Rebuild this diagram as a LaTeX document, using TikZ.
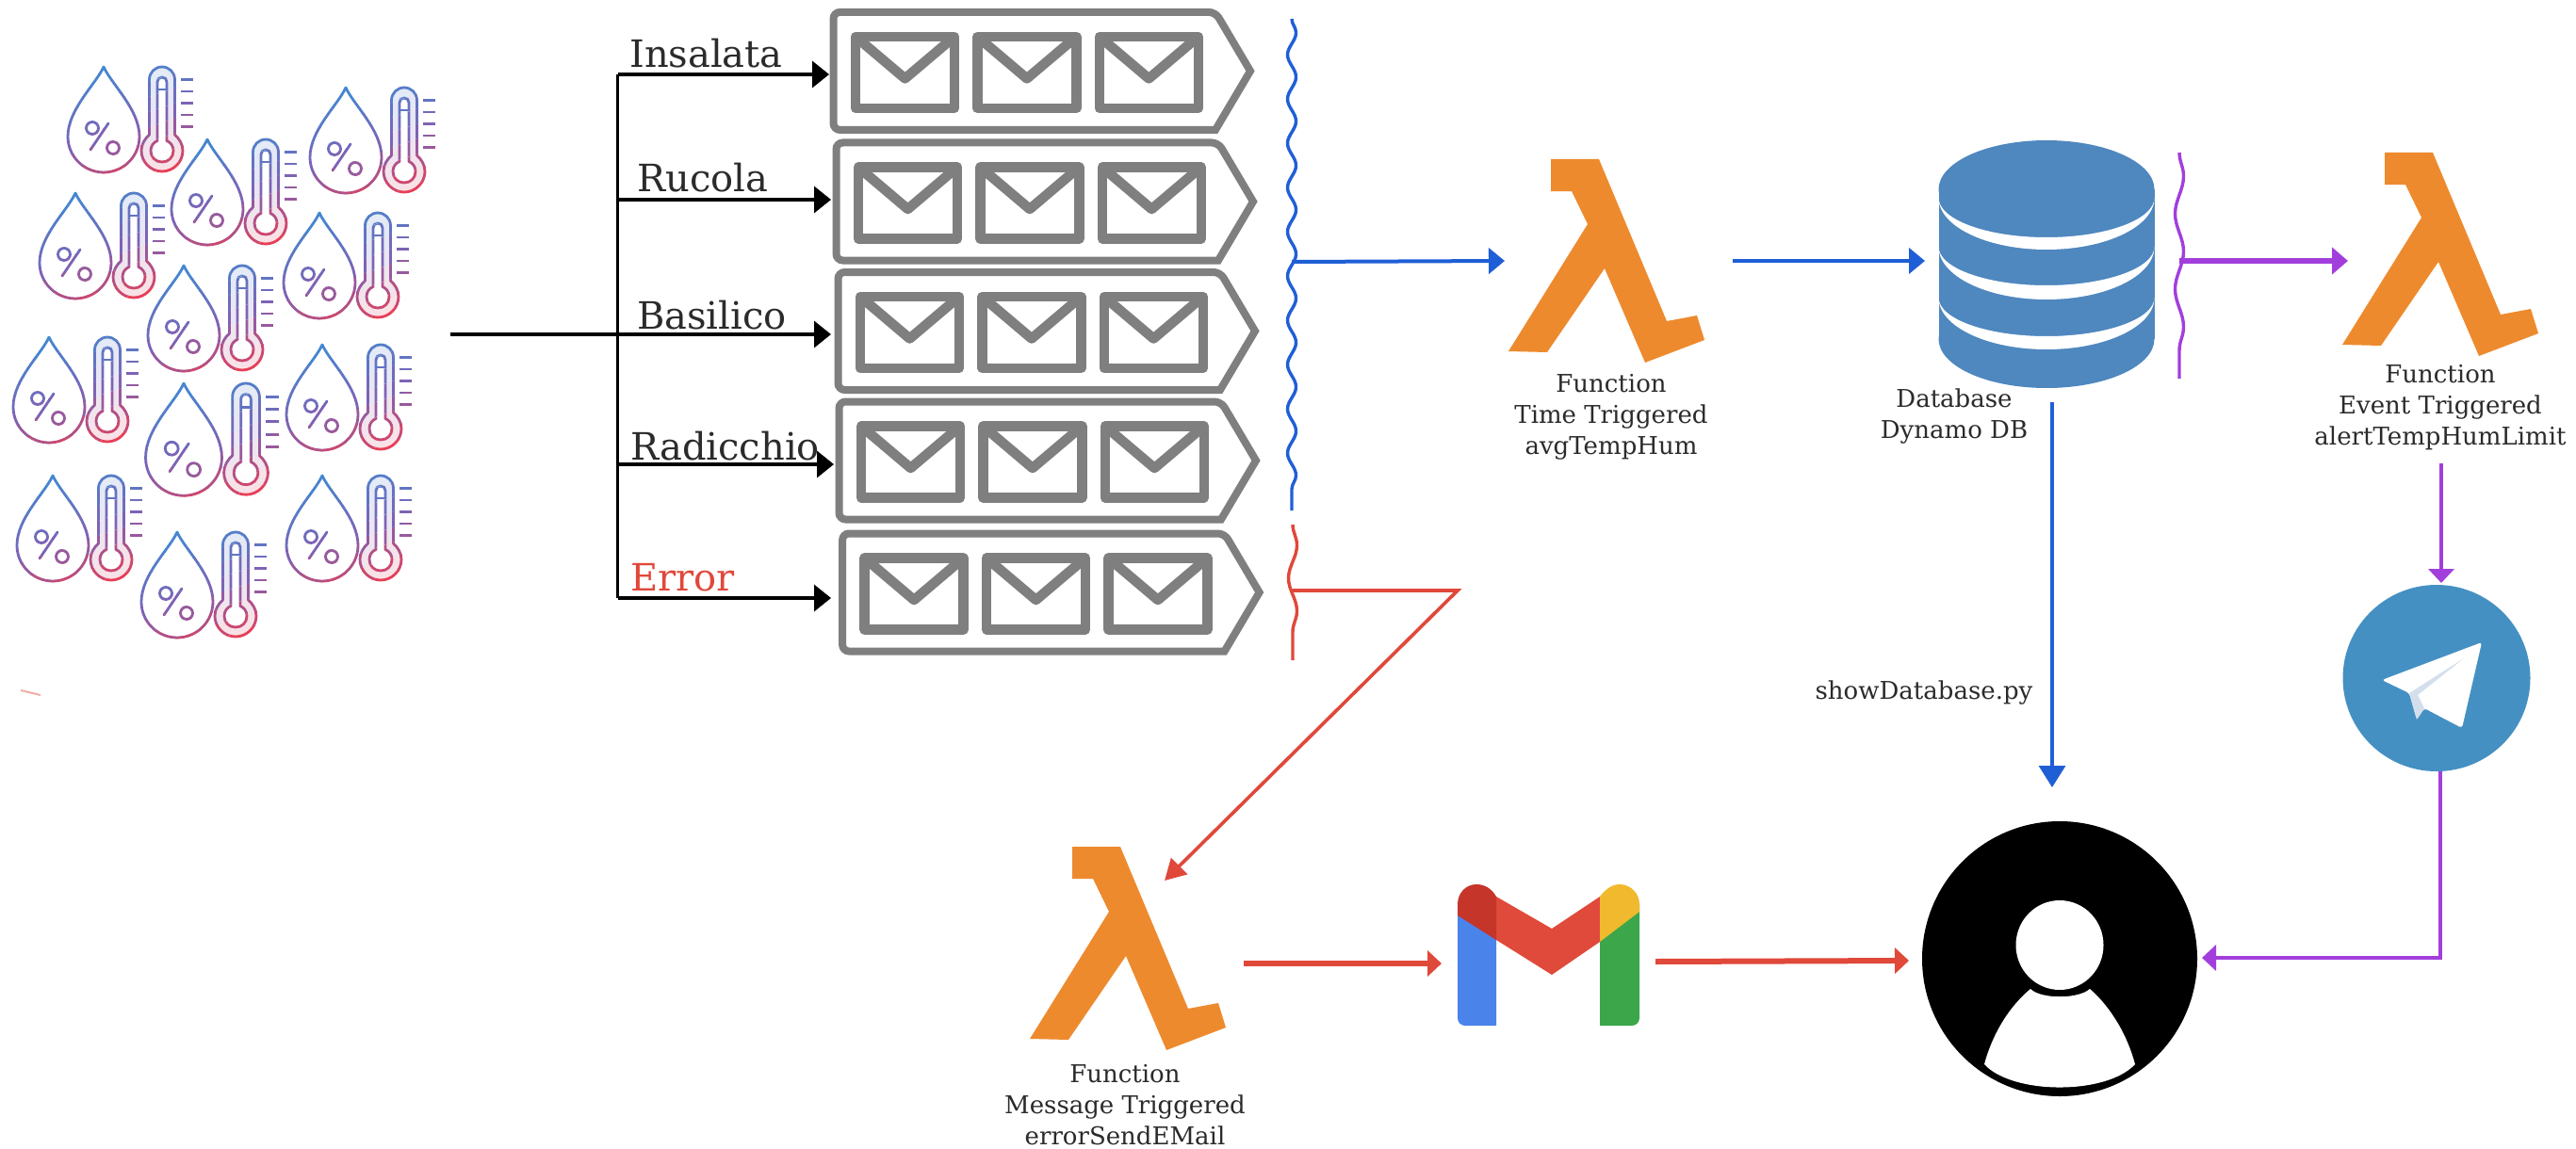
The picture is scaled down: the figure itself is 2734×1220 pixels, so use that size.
\documentclass[tikz,border=0pt]{standalone}
\usepackage{fontspec}
\setmainfont{DejaVu Serif}
\usetikzlibrary{arrows.meta,decorations.pathmorphing}
\definecolor{iconblue}{HTML}{3A8ED6}
\definecolor{iconmid}{HTML}{7D63B5}
\definecolor{iconred}{HTML}{E63F58}
\definecolor{qgray}{HTML}{7F7F7F}
\definecolor{lamorange}{HTML}{EE8A2E}
\definecolor{flowblue}{HTML}{1F5FD6}
\definecolor{flowred}{HTML}{E0483A}
\definecolor{flowpurple}{HTML}{A23FDC}
\definecolor{dbblue}{HTML}{4F87BF}
\definecolor{tgblue}{HTML}{4590C2}
\definecolor{tgfold}{HTML}{D3DFEC}
\definecolor{gmblue}{HTML}{4A83EA}
\definecolor{gmdark}{HTML}{C5352A}
\definecolor{gmred}{HTML}{E04A3A}
\definecolor{gmyellow}{HTML}{F0B92E}
\definecolor{gmgreen}{HTML}{3CA64A}
\definecolor{captext}{HTML}{2B2B2B}
\tikzset{
  branchline/.style={black,line width=3.6pt,-{Triangle[length=18pt,width=28pt]}},
  bluearrow/.style={flowblue,line width=4pt,-{Triangle[length=17pt,width=27pt]}},
  redarrow/.style={flowred,line width=6pt,-{Triangle[length=15pt,width=27pt]}},
  purplearrow/.style={flowpurple,line width=4pt,-{Triangle[length=15pt,width=27pt]}},
  wave/.style={line width=3.4pt,decorate,decoration={snake,segment length=#1,amplitude=4.5pt}},
  qlabel/.style={anchor=base west,inner sep=0pt,font=\fontsize{40}{40}\selectfont,text=captext},
  caption/.style={align=center,inner sep=0pt,font=\fontsize{26}{33}\selectfont,text=captext},
  qoutline/.style={qgray,line width=8pt,rounded corners=7pt},
  envbox/.style={qgray,line width=10.5pt,line join=round},
  iconline/.style={line width=2.8pt,line join=round,line cap=round},
}
\newcommand\iconstroke{%
  \draw[iconline] (0,0) .. controls (-8,18) and (-38,45) .. (-38,74)
     .. controls (-38,95) and (-21,112) .. (0,112)
     .. controls (21,112) and (38,95) .. (38,74)
     .. controls (38,45) and (8,18) .. cycle;
  \draw[iconline] (-12,65) circle[radius=6.5] (10,86) circle[radius=6.5] (-14,88) -- (5,60);
  \path[fill=bandcol!16] (48.5,72) -- (48.5,13.5) .. controls (48.5,6) and (54.5,0) .. (62,0)
     .. controls (69.5,0) and (75.5,6) .. (75.5,13.5) -- (75.5,72)
     .. controls (80,76) and (84,82) .. (84,89) .. controls (84,101) and (74,111) .. (62,111)
     .. controls (50,111) and (40,101) .. (40,89) .. controls (40,82) and (44,76) .. (48.5,72) -- cycle;
  \draw[iconline] (48.5,72) -- (48.5,13.5) .. controls (48.5,6) and (54.5,0) .. (62,0)
     .. controls (69.5,0) and (75.5,6) .. (75.5,13.5) -- (75.5,72)
     .. controls (80,76) and (84,82) .. (84,89) .. controls (84,101) and (74,111) .. (62,111)
     .. controls (50,111) and (40,101) .. (40,89) .. controls (40,82) and (44,76) .. (48.5,72) -- cycle;
  \draw[iconline,fill=white] (57,78.5) -- (57,16) .. controls (57,13) and (59,11) .. (62,11)
     .. controls (65,11) and (67,13) .. (67,16) -- (67,78.5)
     .. controls (71,80) and (74,84) .. (74,89) .. controls (74,96) and (69,101) .. (62,101)
     .. controls (55,101) and (50,96) .. (50,89) .. controls (50,84) and (53,80) .. (57,78.5) -- cycle;
  \draw[iconline] (57,24) -- (67,24);
  \foreach \ty in {13.4,26,38.4,51,63.4}{\draw[iconline,line cap=butt] (82,\ty) -- (95,\ty);}
}
\newcommand\sensoricon[3]{%
  \begin{scope}[shift={(#1,#2)},scale=#3]
    \foreach \b in {0,...,9}{
      \pgfmathsetmacro\ta{-15+\b*16}
      \ifnum\b<5
        \pgfmathtruncatemacro\mixp{\b*20}
        \colorlet{bandcol}{iconmid!\mixp!iconblue}
      \else
        \pgfmathtruncatemacro\mixp{(\b-5)*25}
        \colorlet{bandcol}{iconred!\mixp!iconmid}
      \fi
      \begin{scope}[draw=bandcol]
        \clip (-50,\ta+17.5) -- (110,\ta-38.5) -- (110,\ta-22) -- (-50,\ta+34) -- cycle;
        \iconstroke
      \end{scope}
    }
  \end{scope}
}
\newcommand\envelope[1]{%
  \draw[envbox] (#1+28,29.5) rectangle (#1+133,105.5);
  \draw[envbox] (#1+28,29.5) -- (#1+80.5,74) -- (#1+133,29.5);
}
\newcommand\queuebox[3]{%
  \coordinate (#1) at (#2,#3);
  \begin{scope}[shift={(#2,#3)}]
    \draw[qoutline] (3.5,3.5) -- (409,3.5) [sharp corners] -- (446,66) -- (409,128.5) [rounded corners=7pt] -- (3.5,128.5) -- cycle;
    \envelope{-1}
    \envelope{128.4}
    \envelope{257.8}
  \end{scope}
}
\newcommand\awslambda[3]{%
  \coordinate (#1) at (#2,#3);
  \fill[lamorange,shift={(#2,#3)}] (45,0) -- (96,0) -- (168,172) -- (200,166) -- (208,192) -- (145,216)
    -- (102,116) -- (41,205) -- (0,204) -- (84,69) -- (67,34) -- (45,34) -- cycle;
}
\begin{document}
\begin{tikzpicture}[x=1pt,y=-1pt]
\useasboundingbox (0,0) rectangle (2734,1220);
\fill[white] (0,0) rectangle (2734,1220);

% sensors
\sensoricon{110}{71}{1}
\sensoricon{367}{93}{1}
\sensoricon{220}{148}{1}
\sensoricon{80}{205}{1}
\sensoricon{339}{226}{1}
\sensoricon{195}{282}{1}
\sensoricon{52}{358}{1}
\sensoricon{342}{366}{1}
\sensoricon{195}{407}{1.065}
\sensoricon{56}{505}{1}
\sensoricon{342}{505}{1}
\sensoricon{188}{565}{1}
\draw[flowred!45,line width=2pt] (22,733) -- (43,738);

% queues
\queuebox{q1}{881}{9.4}
\queuebox{q2}{884}{148}
\queuebox{q3}{886}{285.5}
\queuebox{q4}{887}{423}
\queuebox{q5}{890.6}{563}

% bus and branches
\coordinate (src) at (478,355);
\coordinate (bus0) at (655.5,355);
\coordinate (bus1) at (655.5,79);
\coordinate (bus2) at (655.5,212);
\coordinate (bus4) at (655.5,493);
\coordinate (bus5) at (655.5,635);
\coordinate (in1) at (880,79);
\coordinate (in2) at (882,212);
\coordinate (in3) at (882,355);
\coordinate (in4) at (885,493);
\coordinate (in5) at (882,635);
\draw[black,line width=4pt] (src) -- (bus0);
\draw[branchline] (bus0) -- (in3);
\draw[branchline] (bus1) -- (in1);
\draw[branchline] (bus2) -- (in2);
\draw[branchline] (bus4) -- (in4);
\draw[branchline] (bus5) -- (in5);
\draw[black,line width=3.6pt,line cap=square] (bus1) -- (bus5);

\node[qlabel] (linsalata) at (668,72) {Insalata};
\node[qlabel] (lrucola) at (676,203) {Rucola};
\node[qlabel] (lbasilico) at (676,349) {Basilico};
\node[qlabel] (lradicchio) at (669,488) {Radicchio};
\node[qlabel,text=flowred] (lerror) at (669,627) {Error};

% waves
\coordinate (wb1) at (1371,20);
\coordinate (wb2) at (1371,542);
\coordinate (wr1) at (1372,557);
\coordinate (wr2) at (1372,701);
\coordinate (wp1) at (2313,162);
\coordinate (wp2) at (2313,402);
\draw[flowblue,wave=47pt] (wb1) -- (wb2);
\draw[flowred,wave=70pt] (wr1) -- (wr2);
\draw[flowpurple,wave=80pt] (wp1) -- (wp2);

% lambdas
\awslambda{lam1}{1601}{169}
\awslambda{lam2}{2486}{162}
\awslambda{lam3}{1093}{899}

% database
\fill[dbblue] (2057.5,201) rectangle (2286.5,360);
\fill[dbblue] (2172,201) ellipse[x radius=114.5,y radius=52];
\fill[dbblue] (2172,360) ellipse[x radius=114.5,y radius=52];
\fill[white] (2057.5,210) arc[start angle=180,end angle=0,x radius=114.5,y radius=42]
   arc[start angle=0,end angle=180,x radius=114.5,y radius=55] -- cycle;
\fill[white] (2057.5,262) arc[start angle=180,end angle=0,x radius=114.5,y radius=41]
   arc[start angle=0,end angle=180,x radius=114.5,y radius=56] -- cycle;
\fill[white] (2057.5,316) arc[start angle=180,end angle=0,x radius=114.5,y radius=41]
   arc[start angle=0,end angle=180,x radius=114.5,y radius=55] -- cycle;

% telegram
\fill[tgblue] (2586,720) ellipse[x radius=99.5,y radius=99];
\fill[white,rounded corners=3pt] (2634,682) -- (2528,722) -- (2557,736) -- (2565,764) -- (2573,752) -- (2613,773) -- cycle;
\fill[tgfold] (2615,699) -- (2557,736) -- (2565,764) -- (2573,752) -- (2566,738) -- cycle;

% user
\fill[black] (2186,1018) ellipse[x radius=146,y radius=146];
\fill[white] (2186,1003.5) ellipse[x radius=46.5,y radius=47.5];
\fill[white] (2155,1050) .. controls (2166,1061) and (2206,1061) .. (2218,1050)
   .. controls (2241,1070) and (2258,1100) .. (2266,1130)
   .. controls (2236,1162.7) and (2136,1162.7) .. (2106,1130)
   .. controls (2114,1100) and (2131,1070) .. cycle;

% gmail
\fill[gmblue] (1547,960) -- (1547,1079) [rounded corners=8pt] -- (1547,1089) [sharp corners] -- (1588,1089) -- (1588,960) -- cycle;
\fill[gmgreen] (1698,960) -- (1698,1089) [rounded corners=8pt] -- (1740,1089) [sharp corners] -- (1740,960) -- cycle;
\fill[gmred] (1588,952) -- (1647,986) -- (1698,952) -- (1698,1000) -- (1647,1035) -- (1588,998) -- cycle;
\fill[gmdark] (1588,952) .. controls (1583,943) and (1575,939) .. (1567,939) .. controls (1555,939) and (1547,949) .. (1547,960) -- (1547,972) -- (1588,998) -- cycle;
\fill[gmyellow] (1698,952) .. controls (1704,944) and (1711,939) .. (1719,939) .. controls (1731,939) and (1740,949) .. (1740,960) -- (1740,968) -- (1698,1000) -- cycle;

% connectors
\coordinate (bstart) at (1371,278);
\coordinate (lam1in) at (1597,277);
\coordinate (lam1out) at (1839,277);
\coordinate (dbin) at (2043,277);
\coordinate (pstart) at (2313,277);
\coordinate (lam2in) at (2492,277);
\coordinate (lam2out) at (2591,492);
\coordinate (tgin) at (2591,619);
\coordinate (tgout) at (2590,819);
\coordinate (pbend) at (2590,1017);
\coordinate (userr) at (2337,1017);
\coordinate (dbout) at (2178,427);
\coordinate (usert) at (2178,836);
\coordinate (rstart) at (1372,627);
\coordinate (rbend) at (1547,627);
\coordinate (lam3in) at (1236,935);
\coordinate (lam3out) at (1320,1023);
\coordinate (gmin) at (1530,1023);
\coordinate (gmout) at (1757,1021);
\coordinate (userl) at (2026,1020);

\draw[bluearrow] (bstart) -- (lam1in);
\draw[bluearrow] (lam1out) -- (dbin);
\draw[flowpurple,line width=5.5pt,-{Triangle[length=17pt,width=28pt]}] (pstart) -- (lam2in);
\draw[purplearrow] (lam2out) -- (tgin);
\draw[purplearrow,line join=miter] (tgout) -- (pbend) -- (userr);
\draw[flowblue,line width=3.4pt,-{Triangle[length=23pt,width=28pt]}] (dbout) -- (usert);
\draw[flowred,line width=3.6pt,line join=miter,-{Triangle[length=22pt,width=24pt]}] (rstart) -- (rbend) -- (lam3in);
\draw[redarrow] (lam3out) -- (gmin);
\draw[redarrow] (gmout) -- (userl);

% captions
\node[caption] (cap1) at (1710,443) {Function\\Time Triggered\\avgTempHum};
\node[caption] (cap2) at (2074,442) {Database\\Dynamo DB};
\node[caption] (cap3) at (2590,433) {Function\\Event Triggered\\alertTempHumLimit};
\node[caption] (cap4) at (1194,1173) {Function\\Message Triggered\\errorSendEMail};
\node[caption,anchor=base] (cap5) at (2042,742) {showDatabase.py};
\end{tikzpicture}
\end{document}
